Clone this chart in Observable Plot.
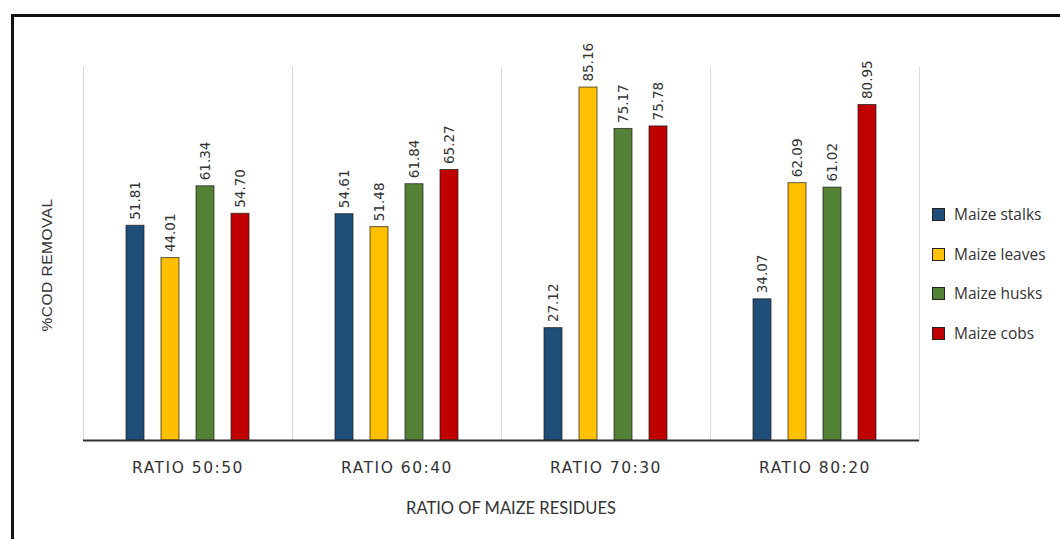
<!DOCTYPE html>
<html>
<head>
<meta charset="utf-8">
<script src="https://cdn.jsdelivr.net/npm/d3@7"></script>
<script src="https://cdn.jsdelivr.net/npm/@observablehq/plot@0.6"></script>
<style>
  html, body { margin: 0; padding: 0; background: #fff; overflow: hidden; }
  #wrap { position: relative; width: 1060px; height: 539px; overflow: hidden; background: #fff; }
  #btop { position: absolute; left: 11px; top: 14px; width: 1049px; height: 2.5px; background: #111; }
  #bleft { position: absolute; left: 11px; top: 14px; width: 2.5px; height: 525px; background: #111; }
  #chart { position: absolute; left: 0; top: 0; }
  g[aria-label^="fx-axis"] text { letter-spacing: 1.5px; }
  #ylab { position: absolute; left: 47px; top: 265px; transform: translate(-50%, -50%) rotate(-90deg);
          font-family: "Liberation Sans", Arial, sans-serif; font-size: 15.5px; letter-spacing: 0.5px; color: #333; white-space: nowrap; }
  #xlab { position: absolute; left: 511px; top: 508px; transform: translate(-50%, -50%);
          font-family: Lato, "Open Sans", sans-serif; font-size: 16.5px; color: #333; white-space: nowrap; }
  #legend { position: absolute; left: 932px; top: 0; font-family: "Open Sans", sans-serif; font-size: 15.5px; color: #333; }
  .item { position: absolute; left: 0; display: flex; align-items: center; white-space: nowrap; transform: translateY(-50%); }
  .sw { width: 11px; height: 11px; border: 1px solid #222; margin-right: 9px; }
</style>
</head>
<body>
<div id="wrap">
  <div id="btop"></div>
  <div id="bleft"></div>
  <div id="chart"></div>
  <div id="ylab">%COD REMOVAL</div>
  <div id="xlab">RATIO OF MAIZE RESIDUES</div>
  <div id="legend"></div>
</div>
<script>
const ratios = ["RATIO 50:50", "RATIO 60:40", "RATIO 70:30", "RATIO 80:20"];
const series = ["Maize stalks", "Maize leaves", "Maize husks", "Maize cobs"];
const stalks = [51.81, 54.61, 27.12, 34.07];
const leaves = [44.01, 51.48, 85.16, 62.09];
const husks  = [61.34, 61.84, 75.17, 61.02];
const cobs   = [54.70, 65.27, 75.78, 80.95];
const colors = ["#1f4e79", "#ffc000", "#538135", "#c00000"];

const values = [stalks, leaves, husks, cobs];
const data = ratios.flatMap((r, i) => series.map((s, j) => ({ratio: r, series: s, value: values[j][i]})));

const chart = Plot.plot({
  width: 1060,
  height: 539,
  marginLeft: 82,
  marginRight: 140,
  marginTop: 67,
  marginBottom: 99,
  fx: {domain: ratios, padding: 0, label: null},
  x: {domain: series, paddingInner: 0.493, paddingOuter: 1.197, axis: null},
  y: {domain: [0, 90], axis: null},
  color: {domain: series, range: colors},
  style: {background: "transparent"},
  marks: [
    Plot.frame({anchor: "left", stroke: "#d9d9d9"}),
    Plot.frame({anchor: "right", stroke: "#d9d9d9"}),
    Plot.barY(data, {fx: "ratio", x: "series", y: "value", fill: "series", stroke: "#1a1a1a", strokeWidth: 1, strokeOpacity: 0.7}),
    Plot.text(data, {fx: "ratio", x: "series", y: "value", text: d => d.value.toFixed(2),
      rotate: -90, textAnchor: "start", lineAnchor: "middle", dy: -6,
      fontFamily: "DejaVu Sans, sans-serif", fontSize: 13.5, fill: "#333"}),
    Plot.ruleY([0], {stroke: "#333", strokeWidth: 2}),
    Plot.axisFx({anchor: "bottom", tickSize: 0, tickPadding: 21, label: null,
      fontFamily: "DejaVu Sans, sans-serif", fontSize: 15.5, fill: "#333"})
  ]
});
document.getElementById("chart").appendChild(chart);

const legend = document.getElementById("legend");
const rowY = [214, 254, 293, 333];
series.forEach((s, i) => {
  const item = document.createElement("div");
  item.className = "item";
  item.style.top = rowY[i] + "px";
  const sw = document.createElement("div");
  sw.className = "sw";
  sw.style.background = colors[i];
  const t = document.createElement("span");
  t.textContent = s;
  item.appendChild(sw);
  item.appendChild(t);
  legend.appendChild(item);
});
</script>
</body>
</html>
